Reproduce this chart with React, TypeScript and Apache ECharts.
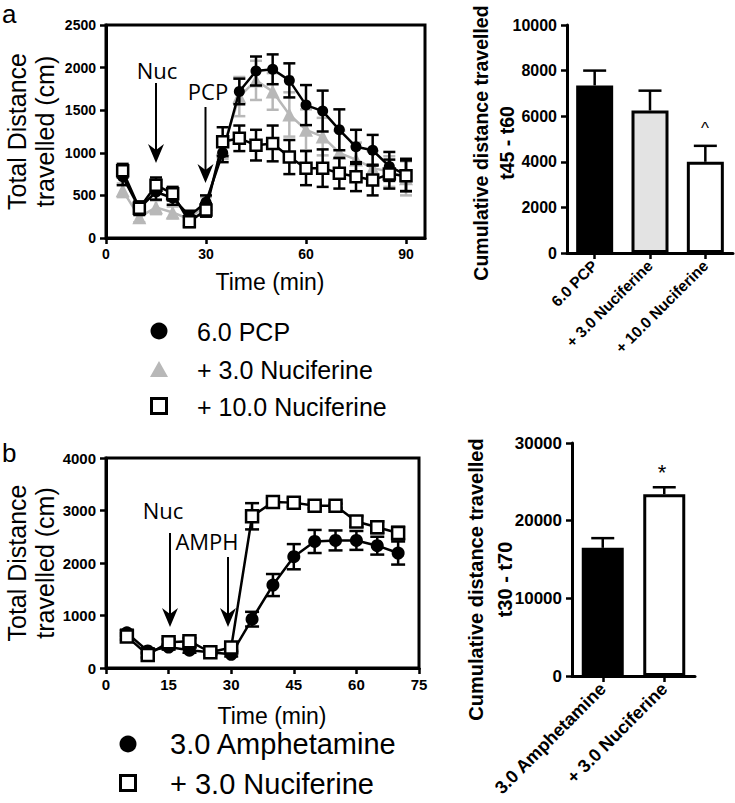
import React, { useEffect, useRef } from "react";
import * as echarts from "echarts";

// ---------- Panel a: time course ----------
const timeA = [5, 10, 15, 20, 25, 30, 35, 40, 45, 50, 55, 60, 65, 70, 75, 80, 85, 90];
const pcpMean = [720, 350, 540, 470, 260, 420, 1000, 1720, 1960, 1980, 1850, 1560, 1490, 1270, 1070, 1030, 840, 740];
const pcpSem = [100, 80, 90, 80, 60, 80, 110, 150, 170, 175, 200, 235, 240, 240, 200, 180, 170, 190];
const nuc3Mean = [560, 245, 360, 300, 220, 400, 1050, 1660, 1850, 1720, 1450, 1270, 1190, 1000, 920, 820, 780, 700];
const nuc3Sem = [80, 60, 80, 70, 50, 80, 120, 230, 230, 215, 260, 240, 220, 260, 200, 200, 180, 200];
const nuc10Mean = [790, 350, 620, 520, 190, 330, 1130, 1170, 1090, 1110, 950, 820, 820, 760, 720, 680, 750, 730];
const nuc10Sem = [80, 70, 90, 80, 60, 80, 170, 150, 180, 210, 200, 200, 220, 180, 170, 180, 170, 180];
const ticksA = [0, 30, 60, 90];

// ---------- Panel a: cumulative bars ----------
const barACats = ["6.0 PCP", "+ 3.0 Nuciferine", "+ 10.0 Nuciferine"];
const barAMean = [7350, 6250, 4000];
const barASem = [650, 870, 700];
const barAColors = ["#000000", "#e3e3e3", "#ffffff"];

// ---------- Panel b: time course ----------
const timeB = [5, 10, 15, 20, 25, 30, 35, 40, 45, 50, 55, 60, 65, 70];
const amphMean = [670, 325, 400, 340, 300, 260, 930, 1580, 2120, 2410, 2430, 2430, 2330, 2190];
const amphSem = [60, 50, 50, 50, 40, 40, 140, 210, 240, 220, 190, 180, 170, 220];
const nucBMean = [600, 250, 490, 510, 300, 390, 2890, 3160, 3150, 3090, 3090, 2790, 2680, 2570];
const nucBSem = [60, 50, 60, 60, 40, 60, 250, 80, 80, 50, 40, 100, 110, 120];

// ---------- Panel b: cumulative bars ----------
const barBCats = ["3.0 Amphetamine", "+ 3.0 Nuciferine"];
const barBMean = [16500, 23400];
const barBSem = [1250, 900];
const barBColors = ["#000000", "#ffffff"];

const FONT = "'Liberation Sans', Arial, sans-serif";
const ANNOT = "'Open Sans', 'Liberation Sans', sans-serif";
const GRAY = "#b8b8b8";

const makeErr = (capHalf: number, both: boolean, color: string, lw: number) => (params: any, api: any) => {
  const x = api.value(0);
  const y = api.value(1);
  const e = api.value(2);
  const pTop = api.coord([x, y + e]);
  const pBot = api.coord([x, both ? y - e : y]);
  const style = { stroke: color, lineWidth: lw };
  const children: any[] = [
    { type: "line", shape: { x1: pTop[0], y1: pTop[1], x2: pBot[0], y2: pBot[1] }, style },
    { type: "line", shape: { x1: pTop[0] - capHalf, y1: pTop[1], x2: pTop[0] + capHalf, y2: pTop[1] }, style },
  ];
  if (both) {
    children.push({ type: "line", shape: { x1: pBot[0] - capHalf, y1: pBot[1], x2: pBot[0] + capHalf, y2: pBot[1] }, style });
  }
  return { type: "group", children };
};

const plain = (v: number) => String(v);
const tickLabel = (size: number) => ({ color: "#000", fontFamily: FONT, fontWeight: "bold" as const, fontSize: size, formatter: plain });
const catLabel = (size: number) => ({ color: "#000", fontFamily: FONT, fontWeight: "bold" as const, fontSize: size });
const axisLine = { show: true, lineStyle: { color: "#000", width: 3 } };
const axisTick = { show: true, length: 6, lineStyle: { color: "#000", width: 2.5 } };

const txt = (text: string, x: number, y: number, size: number, family = FONT, align = "left", weight = "normal") => ({
  type: "text",
  x,
  y,
  z: 100,
  style: {
    text,
    fontSize: size,
    fontFamily: family,
    fontWeight: weight,
    fill: "#000",
    align,
    verticalAlign: "middle",
    textAlign: align,
    textVerticalAlign: "middle",
  },
});

const arrow = (x: number, y1: number, tip: number) => [
  { type: "line", z: 100, shape: { x1: x, y1, x2: x, y2: tip - 10 }, style: { stroke: "#000", lineWidth: 2 } },
  {
    type: "polygon",
    z: 100,
    shape: { points: [[x, tip], [x - 8, tip - 19], [x, tip - 13], [x + 8, tip - 19]] },
    style: { fill: "#000" },
  },
];

export default function App() {
  const ref = useRef<HTMLDivElement>(null);
  useEffect(() => {
    if (!ref.current) return;
    const chart = echarts.init(ref.current, undefined, { renderer: "svg" });

    const lineSeries = (xi: number, xs: number[], ys: number[], symbol: string, size: number, fill: string, stroke: string, lineColor: string, z: number) => ({
      type: "line",
      xAxisIndex: xi,
      yAxisIndex: xi,
      data: xs.map((t, i) => [t, ys[i]]),
      symbol,
      symbolSize: size,
      showAllSymbol: true,
      itemStyle: { color: fill, borderColor: stroke, borderWidth: symbol === "rect" ? 2.5 : 0, opacity: 1 },
      lineStyle: { color: lineColor, width: 2.5 },
      z,
      silent: true,
    });
    const errSeries = (xi: number, xs: number[], ys: number[], es: number[], capHalf: number, both: boolean, color: string, z: number) => ({
      type: "custom",
      xAxisIndex: xi,
      yAxisIndex: xi,
      data: xs.map((t, i) => [t, ys[i], es[i]]),
      encode: { x: 0, y: 1 },
      renderItem: makeErr(capHalf, both, color, 2.5),
      z,
      silent: true,
    });

    const option: any = {
      animation: false,
      backgroundColor: "#fff",
      grid: [
        { left: 106, top: 25, width: 319, height: 213, show: true, borderColor: "#000", borderWidth: 3, backgroundColor: "transparent", outerBoundsMode: "none" },
        { left: 567, top: 25, width: 166, height: 228, outerBoundsMode: "none" },
        { left: 106, top: 458, width: 313, height: 210, show: true, borderColor: "#000", borderWidth: 3, backgroundColor: "transparent", outerBoundsMode: "none" },
        { left: 572, top: 443, width: 123, height: 233, outerBoundsMode: "none" },
      ],
      xAxis: [
        {
          gridIndex: 0,
          type: "value",
          min: 0,
          max: 95.7,
          axisLine,
          axisTick: { ...axisTick, customValues: ticksA },
          axisLabel: { ...tickLabel(14), margin: 9, customValues: ticksA },
          splitLine: { show: false },
          name: "Time (min)",
          nameLocation: "middle",
          nameGap: 32,
          nameMoveOverlap: false,
          nameTextStyle: { fontFamily: FONT, fontSize: 23, color: "#000", padding: [0, 0, 0, 9] },
        },
        {
          gridIndex: 1,
          type: "category",
          data: barACats,
          axisLine,
          axisTick: { ...axisTick, alignWithLabel: true },
          axisLabel: { ...catLabel(15.5), rotate: 45, margin: 10, interval: 0 },
        },
        {
          gridIndex: 2,
          type: "value",
          min: 0,
          max: 75,
          interval: 15,
          axisLine,
          axisTick,
          axisLabel: { ...tickLabel(15), margin: 9 },
          splitLine: { show: false },
          name: "Time (min)",
          nameLocation: "middle",
          nameGap: 36,
          nameMoveOverlap: false,
          nameTextStyle: { fontFamily: FONT, fontSize: 23, color: "#000", padding: [0, 0, 0, 19] },
        },
        {
          gridIndex: 3,
          type: "category",
          data: barBCats,
          axisLine,
          axisTick: { ...axisTick, alignWithLabel: true },
          axisLabel: { ...catLabel(18), rotate: 45, margin: 10, interval: 0 },
        },
      ],
      yAxis: [
        {
          gridIndex: 0,
          type: "value",
          min: 0,
          max: 2500,
          interval: 500,
          axisLine,
          axisTick,
          axisLabel: { ...tickLabel(14), margin: 10 },
          splitLine: { show: false },
          name: "Total Distance\ntravelled (cm)",
          nameLocation: "middle",
          nameGap: 47,
          nameMoveOverlap: false,
          nameRotate: 90,
          nameTextStyle: { fontFamily: FONT, fontSize: 25, lineHeight: 28, color: "#000" },
        },
        {
          gridIndex: 1,
          type: "value",
          min: 0,
          max: 10000,
          interval: 2000,
          axisLine,
          axisTick,
          axisLabel: { ...tickLabel(16), margin: 10 },
          splitLine: { show: false },
          name: "Cumulative distance travelled\nt45 - t60",
          nameLocation: "middle",
          nameGap: 47,
          nameMoveOverlap: false,
          nameRotate: 90,
          nameTextStyle: { fontFamily: FONT, fontSize: 19.5, fontWeight: "bold", lineHeight: 26, color: "#000", padding: [0, 8, 0, 0] },
        },
        {
          gridIndex: 2,
          type: "value",
          min: 0,
          max: 4000,
          interval: 1000,
          axisLine,
          axisTick,
          axisLabel: { ...tickLabel(15), margin: 10 },
          splitLine: { show: false },
          name: "Total Distance\ntravelled (cm)",
          nameLocation: "middle",
          nameGap: 47,
          nameMoveOverlap: false,
          nameRotate: 90,
          nameTextStyle: { fontFamily: FONT, fontSize: 25, lineHeight: 28, color: "#000" },
        },
        {
          gridIndex: 3,
          type: "value",
          min: 0,
          max: 30000,
          interval: 10000,
          axisLine,
          axisTick,
          axisLabel: { ...tickLabel(17), margin: 10 },
          splitLine: { show: false },
          name: "Cumulative distance travelled\nt30 - t70",
          nameLocation: "middle",
          nameGap: 53,
          nameMoveOverlap: false,
          nameRotate: 90,
          nameTextStyle: { fontFamily: FONT, fontSize: 20, fontWeight: "bold", lineHeight: 29, color: "#000", padding: [0, 40, 0, 0] },
        },
      ],
      series: [
        // panel a line chart
        errSeries(0, timeA, nuc3Mean, nuc3Sem, 6, true, GRAY, 2),
        lineSeries(0, timeA, nuc3Mean, "triangle", 14, GRAY, GRAY, GRAY, 3),
        errSeries(0, timeA, pcpMean, pcpSem, 6, true, "#000", 4),
        lineSeries(0, timeA, pcpMean, "circle", 11, "#000", "#000", "#000", 5),
        errSeries(0, timeA, nuc10Mean, nuc10Sem, 6, true, "#000", 6),
        lineSeries(0, timeA, nuc10Mean, "rect", 11, "#fff", "#000", "#000", 7),
        // panel a bars
        {
          type: "bar",
          xAxisIndex: 1,
          yAxisIndex: 1,
          barWidth: 37,
          data: barAMean.map((v, i) => ({ value: v, itemStyle: { color: barAColors[i], borderColor: "#000", borderWidth: 3 } })),
          z: 2,
          silent: true,
        },
        errSeries(1, [0, 1, 2], barAMean, barASem, 11.5, false, "#000", 3),
        // panel b line chart
        errSeries(2, timeB, amphMean, amphSem, 7, true, "#000", 2),
        lineSeries(2, timeB, amphMean, "circle", 13, "#000", "#000", "#000", 3),
        errSeries(2, timeB, nucBMean, nucBSem, 7, true, "#000", 4),
        lineSeries(2, timeB, nucBMean, "rect", 12, "#fff", "#000", "#000", 5),
        // panel b bars
        {
          type: "bar",
          xAxisIndex: 3,
          yAxisIndex: 3,
          barWidth: 42,
          data: barBMean.map((v, i) => ({ value: v, itemStyle: { color: barBColors[i], borderColor: "#000", borderWidth: 3 } })),
          z: 2,
          silent: true,
        },
        errSeries(3, [0, 1], barBMean, barBSem, 11.5, false, "#000", 3),
      ],
      graphic: [
        txt("a", 2, 14, 26),
        txt("b", 2, 453, 26),
        txt("Nuc", 157, 69.5, 22, ANNOT, "center"),
        txt("PCP", 208, 91, 22, ANNOT, "center"),
        ...arrow(156, 83, 163),
        ...arrow(205.5, 107, 183),
        txt("Nuc", 163, 510, 22, ANNOT, "center"),
        txt("AMPH", 207, 541, 22, ANNOT, "center"),
        ...arrow(170, 533, 627),
        ...arrow(228, 557, 627),
        txt("^", 705, 128, 17, FONT, "center"),
        txt("*", 662, 472, 22, FONT, "center"),
        // legend a
        { type: "circle", z: 100, shape: { cx: 159, cy: 331, r: 8.5 }, style: { fill: "#000" } },
        { type: "polygon", z: 100, shape: { points: [[150, 377], [168, 377], [159, 361]] }, style: { fill: GRAY } },
        { type: "rect", z: 100, shape: { x: 151.5, y: 398.5, width: 15, height: 15 }, style: { fill: "#fff", stroke: "#000", lineWidth: 3 } },
        txt("6.0 PCP", 197, 332, 25),
        txt("+ 3.0 Nuciferine", 197, 370, 25),
        txt("+ 10.0 Nuciferine", 197, 407, 25),
        // legend b
        { type: "circle", z: 100, shape: { cx: 128, cy: 744, r: 8.5 }, style: { fill: "#000" } },
        { type: "rect", z: 100, shape: { x: 120.5, y: 775.5, width: 15, height: 15 }, style: { fill: "#fff", stroke: "#000", lineWidth: 3 } },
        txt("3.0 Amphetamine", 170, 744, 29),
        txt("+ 3.0 Nuciferine", 170, 784, 29),
      ],
    };
    chart.setOption(option);
    return () => chart.dispose();
  }, []);
  return <div ref={ref} style={{ position: "absolute", left: 0, top: 0, width: 735, height: 803 }} />;
}
